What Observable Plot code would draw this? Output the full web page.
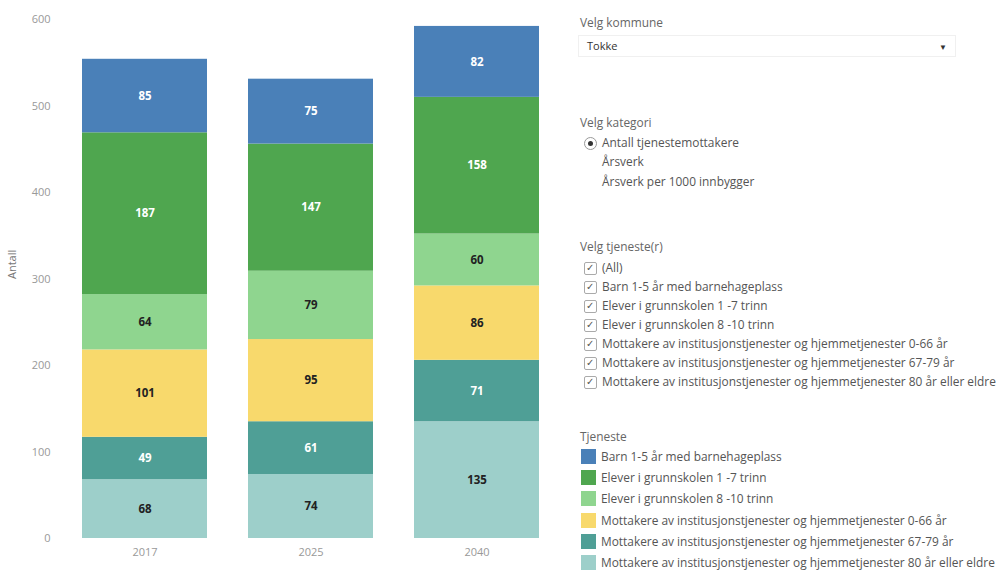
<!DOCTYPE html>
<html>
<head>
<meta charset="utf-8">
<script src="https://cdn.jsdelivr.net/npm/d3@7"></script>
<script src="https://cdn.jsdelivr.net/npm/@observablehq/plot@0.6"></script>
<style>
  html, body { margin: 0; padding: 0; background: #fff; }
  body { width: 998px; height: 571px; position: relative; overflow: hidden;
         font-family: "Open Sans", "Liberation Sans", Arial, sans-serif; color: #555; }
  #chart { position: absolute; left: 0; top: 0; }
  #panel { position: absolute; left: 578px; top: 0; width: 420px; font-size: 11.9px; }
  .lbl { position: absolute; left: 2px; color: #666; }
  .opt { position: absolute; left: 24px; color: #555; }
  .box { position: absolute; left: 6px; width: 11px; height: 11px; border: 1px solid #aaa; border-radius: 2px; }
  .box::after { content: "✓"; position: absolute; left: 1px; top: -3px; font-size: 10px; color: #555; }
  .sw { position: absolute; left: 3px; width: 15px; height: 15px; }
  .lt { position: absolute; left: 23px; color: #555; white-space: nowrap; }
</style>
</head>
<body>
<div id="chart"></div>
<div id="panel"></div>
<script>
const years = ["2017", "2025", "2040"];
const categories = [
  "Barn 1-5 år med barnehageplass",
  "Elever i grunnskolen 1 -7 trinn",
  "Elever i grunnskolen 8 -10  trinn",
  "Mottakere av institusjonstjenester og hjemmetjenester 0-66 år",
  "Mottakere av institusjonstjenester og hjemmetjenester 67-79 år",
  "Mottakere av institusjonstjenester og hjemmetjenester 80 år eller eldre"
];
const colors = ["#4a80b8", "#4fa64f", "#8fd58f", "#f8d96c", "#4f9f96", "#9dcfca"];
const whiteLabel = [true, true, false, false, true, false];
// values per category, in year order
const barn = [85, 75, 82];
const trinn17 = [187, 147, 158];
const trinn810 = [64, 79, 60];
const m066 = [101, 95, 86];
const m6779 = [49, 61, 71];
const m80 = [68, 74, 135];
const series = [barn, trinn17, trinn810, m066, m6779, m80];
const yTicks = [0, 100, 200, 300, 400, 500, 600];

// stack bottom-up: last category first
const data = [];
for (let c = categories.length - 1; c >= 0; c--) {
  years.forEach((y, i) => data.push({year: y, cat: categories[c], value: series[c][i], white: whiteLabel[c]}));
}

const chart = Plot.plot({
  width: 570,
  height: 571,
  marginTop: 19,
  marginBottom: 33,
  marginLeft: 60,
  marginRight: 10,
  style: {fontFamily: "Open Sans, Liberation Sans, Arial, sans-serif", fontSize: "11px", color: "#999", background: "white"},
  x: {domain: years, label: null, paddingInner: 0.25, paddingOuter: 0.125, tickSize: 0, tickPadding: 10},
  y: {domain: [0, 600], ticks: yTicks, label: null, tickSize: 0, tickPadding: 10},
  color: {domain: categories, range: colors},
  marks: [
    Plot.barY(data, {x: "year", y: "value", fill: "cat", order: null}),
    Plot.text(data, Plot.stackY({x: "year", y: "value", z: "cat", order: null, text: d => d.white ? String(d.value) : null, fill: "#fff", fontWeight: "bold", fontSize: 11.5})),
    Plot.text(data, Plot.stackY({x: "year", y: "value", z: "cat", order: null, text: d => d.white ? null : String(d.value), fill: "#222", fontWeight: "bold", fontSize: 11.5})),
    Plot.text(["Antall"], {frameAnchor: "left", dx: -48, rotate: -90, fill: "#777", fontSize: 11})
  ]
});
document.getElementById("chart").appendChild(chart);

// right panel
const panel = document.getElementById("panel");
function add(cls, top, html, extra) {
  const d = document.createElement("div");
  d.className = cls;
  d.style.top = top + "px";
  d.innerHTML = html;
  if (extra) Object.assign(d.style, extra);
  panel.appendChild(d);
  return d;
}
add("lbl", 14, "Velg kommune");
const dd = add("lbl", 35, "", {left: "0px", width: "376px", height: "20px", border: "1px solid #f0f0f0", background: "#fff"});
dd.innerHTML = '<span style="position:absolute;left:8px;top:2px;color:#333;font-size:11px">Tokke</span><span style="position:absolute;right:8px;top:5px;font-size:8px;color:#333">▼</span>';
add("lbl", 114, "Velg kategori");
const radio = add("lbl", 137, "", {left: "6px", width: "11px", height: "11px", border: "1px solid #999", borderRadius: "50%"});
radio.innerHTML = '<div style="position:absolute;left:3px;top:3px;width:5px;height:5px;border-radius:50%;background:#333"></div>';
add("opt", 134, "Antall tjenestemottakere");
add("opt", 153, "Årsverk");
add("opt", 173, "Årsverk per 1000 innbygger");
add("lbl", 238, "Velg tjeneste(r)");
const checks = ["(All)"].concat(categories);
checks.forEach((t, i) => {
  add("box", 262 + i * 19, "");
  add("opt", 259 + i * 19, t, {whiteSpace: "nowrap"});
});
add("lbl", 428, "Tjeneste");
categories.forEach((t, i) => {
  add("sw", 449 + i * 21.2, "", {background: colors[i]});
  add("lt", 448 + i * 21.2, t);
});
</script>
</body>
</html>
